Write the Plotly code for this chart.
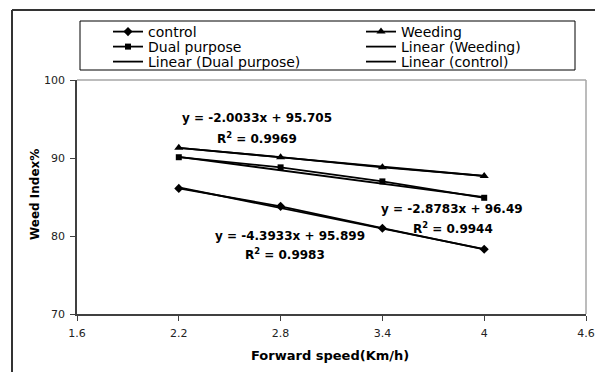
import plotly.graph_objects as go

# ---- data ----
speed = [2.2, 2.8, 3.4, 4.0]
control = [86.1, 83.8, 81.0, 78.3]
weeding = [91.3, 90.1, 88.8, 87.7]
dual_purpose = [90.1, 88.8, 87.0, 84.9]

# printed trend-line equations (slope, intercept, R^2)
fit_weeding = (-2.0033, 95.705, 0.9969)
fit_dual = (-2.8783, 96.49, 0.9944)
fit_control = (-4.3933, 95.899, 0.9983)

x_ticks = [1.6, 2.2, 2.8, 3.4, 4.0, 4.6]
y_ticks = [70, 80, 90, 100]

FONT = "DejaVu Sans"
BLACK = "#000000"

# plot-area geometry in pixels (for helper conversions)
W, H = 595, 372
L, R, T, B = 77, 9, 80, 58
PW, PH = W - L - R, H - T - B


def px_x(px):
    return (px - L) / PW


def px_y(py):
    return (H - B - py) / PH


def trend(fit):
    a, b, _ = fit
    xs = [speed[0], speed[-1]]
    return xs, [a * x + b for x in xs]


fig = go.Figure()

line_w = 1.8
fig.add_trace(go.Scatter(x=speed, y=control, name="control", mode="lines+markers",
                         line=dict(color=BLACK, width=line_w),
                         marker=dict(symbol="diamond", size=7, color=BLACK),
                         legend="legend"))
fig.add_trace(go.Scatter(x=speed, y=weeding, name="Weeding", mode="lines+markers",
                         line=dict(color=BLACK, width=line_w),
                         marker=dict(symbol="triangle-up", size=8, color=BLACK),
                         legend="legend"))
fig.add_trace(go.Scatter(x=speed, y=dual_purpose, name="Dual purpose", mode="lines+markers",
                         line=dict(color=BLACK, width=line_w),
                         marker=dict(symbol="square", size=6, color=BLACK),
                         legend="legend2"))
xw, yw = trend(fit_weeding)
fig.add_trace(go.Scatter(x=xw, y=yw, name="Linear (Weeding)", mode="lines",
                         line=dict(color=BLACK, width=line_w), legend="legend2"))
xd, yd = trend(fit_dual)
fig.add_trace(go.Scatter(x=xd, y=yd, name="Linear (Dual purpose)", mode="lines",
                         line=dict(color=BLACK, width=line_w), legend="legend3"))
xc, yc = trend(fit_control)
fig.add_trace(go.Scatter(x=xc, y=yc, name="Linear (control)", mode="lines",
                         line=dict(color=BLACK, width=line_w), legend="legend3"))


def leg(row_y):
    return dict(orientation="h", x=px_x(108), xanchor="left", y=px_y(row_y), yanchor="middle",
                entrywidth=208, entrywidthmode="pixels", bgcolor="rgba(0,0,0,0)",
                borderwidth=0, font=dict(family=FONT, size=14, color=BLACK),
                itemwidth=30, tracegroupgap=0)


eq_font = dict(family=FONT, size=12, color=BLACK)


def eq_text(fit):
    a, b, _ = fit
    return f"<b>y = {a:.4f}x + {b:g}</b>"


def r2_text(fit):
    return f"<b>R<sup>2</sup> = {fit[2]:.4f}</b>"


annotations = [
    dict(x=2.661, y=95.13, text=eq_text(fit_weeding)),
    dict(x=2.661, y=92.56, text=r2_text(fit_weeding)),
    dict(x=3.81, y=83.46, text=eq_text(fit_dual)),
    dict(x=3.816, y=81.03, text=r2_text(fit_dual)),
    dict(x=2.855, y=80.0, text=eq_text(fit_control)),
    dict(x=2.826, y=77.69, text=r2_text(fit_control)),
]
for a in annotations:
    a.update(xref="x", yref="y", showarrow=False, font=eq_font, xanchor="center", yanchor="middle")

# axis titles
annotations.append(dict(xref="paper", yref="paper", x=px_x(330), y=px_y(355),
                        text="<b>Forward speed(Km/h)</b>", showarrow=False,
                        font=dict(family=FONT, size=13, color=BLACK),
                        xanchor="center", yanchor="middle"))
annotations.append(dict(xref="paper", yref="paper", x=px_x(35), y=px_y(195),
                        text="<b>Weed Index%</b>", showarrow=False, textangle=-90,
                        font=dict(family=FONT, size=12, color=BLACK),
                        xanchor="center", yanchor="middle"))

shapes = [
    # plot area top / right border (light gray)
    dict(type="line", xref="paper", yref="paper", x0=0, x1=1, y0=1, y1=1,
         line=dict(color="#a6a6a6", width=1.5)),
    dict(type="line", xref="paper", yref="paper", x0=1, x1=1, y0=0, y1=1,
         line=dict(color="#a6a6a6", width=1.5)),
    # outer chart border (left and top)
    dict(type="line", xref="paper", yref="paper", x0=px_x(12), x1=px_x(12),
         y0=px_y(10), y1=px_y(380), line=dict(color="#333333", width=2)),
    dict(type="line", xref="paper", yref="paper", x0=px_x(12), x1=px_x(600),
         y0=px_y(10), y1=px_y(10), line=dict(color="#333333", width=2)),
    # legend box
    dict(type="rect", xref="paper", yref="paper", x0=px_x(80), x1=px_x(575),
         y0=px_y(70), y1=px_y(21), line=dict(color=BLACK, width=1)),
]

fig.update_layout(
    width=W, height=H,
    margin=dict(l=L, r=R, t=T, b=B, autoexpand=False),
    paper_bgcolor="white", plot_bgcolor="white",
    showlegend=True,
    legend=leg(32), legend2=leg(47), legend3=leg(62),
    annotations=annotations, shapes=shapes,
    font=dict(family=FONT, size=11, color="#222222"),
)
fig.update_xaxes(range=[1.6, 4.6], tickvals=x_ticks, ticktext=[f"{v:g}" for v in x_ticks],
                 showgrid=False, zeroline=False, showline=True, linecolor="#404040", linewidth=1.5,
                 ticks="outside", ticklen=5, tickcolor="#404040", tickwidth=1,
                 tickfont=dict(family=FONT, size=11, color="#222222"), ticklabelstandoff=3)
fig.update_yaxes(range=[70, 100], tickvals=y_ticks,
                 showgrid=False, zeroline=False, showline=True, linecolor="#404040", linewidth=1.5,
                 ticks="outside", ticklen=5, tickcolor="#404040", tickwidth=1,
                 tickfont=dict(family=FONT, size=11, color="#222222"), ticklabelstandoff=3)

fig.write_html("out.html", config={"displayModeBar": False},
               post_script="document.body.style.margin='0';document.body.style.overflow='hidden';")
